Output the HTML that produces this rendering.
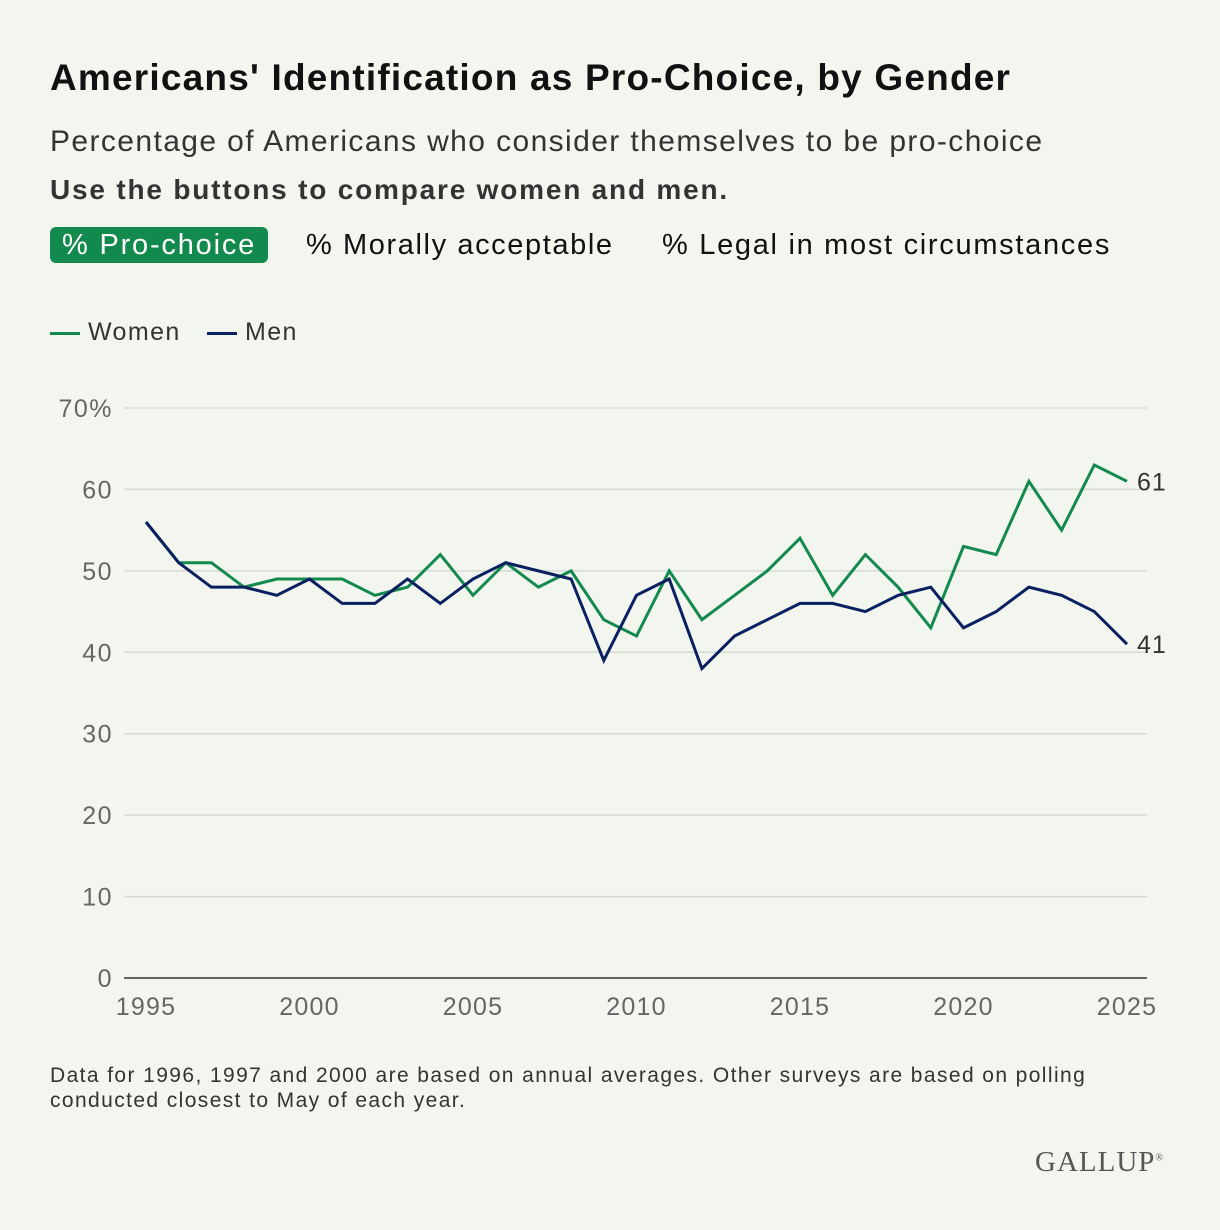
<!DOCTYPE html>
<html><head><meta charset="utf-8"><style>
body{margin:0;background:#f2f6ef;font-family:"Liberation Sans",sans-serif;}
#wrap{position:relative;width:1220px;height:1230px;background:#f2f6ef;overflow:hidden}
.t{position:absolute;white-space:nowrap}
</style></head><body>
<div id="wrap">
<div class="t" style="left:50px;top:57px;font-size:37px;font-weight:bold;color:#111;letter-spacing:1.2px">Americans' Identification as Pro-Choice, by Gender</div>
<div class="t" style="left:50px;top:125px;font-size:30px;color:#333;letter-spacing:1.4px">Percentage of Americans who consider themselves to be pro-choice</div>
<div class="t" style="left:50px;top:174px;font-size:28px;font-weight:bold;color:#333;letter-spacing:1.8px">Use the buttons to compare women and men.</div>
<div class="t" style="left:50px;top:227px;height:36px;line-height:36px;padding:0 12px;border-radius:6px;background:#138a4d;color:#fff;font-size:29px;letter-spacing:1.8px">% Pro-choice</div>
<div class="t" style="left:306px;top:227px;line-height:36px;font-size:29px;color:#111;letter-spacing:1.6px">% Morally acceptable</div>
<div class="t" style="left:662px;top:227px;line-height:36px;font-size:29px;color:#111;letter-spacing:1.7px">% Legal in most circumstances</div>
<div class="t" style="left:50px;top:318px;font-size:25px;color:#333;letter-spacing:1.4px"><span style="display:inline-block;width:30px;height:3px;background:#138a4d;vertical-align:middle;margin-right:8px"></span>Women</div>
<div class="t" style="left:207px;top:318px;font-size:25px;color:#333;letter-spacing:1.4px"><span style="display:inline-block;width:30px;height:3px;background:#0b2060;vertical-align:middle;margin-right:8px"></span>Men</div>
<svg id="chart" width="1220" height="1230" style="position:absolute;left:0;top:0"></svg>
<div class="t" style="left:50px;top:1063px;font-size:21px;color:#333;line-height:25px;letter-spacing:1.4px">Data for 1996, 1997 and 2000 are based on annual averages. Other surveys are based on polling<br>conducted closest to May of each year.</div>
<div class="t" style="left:1035px;top:1146px;font-family:'Liberation Serif',serif;font-size:29px;color:#555;letter-spacing:1px">GALLUP<sup style="font-size:10px">®</sup></div>
</div>
<script>
const years=[1995,1996,1997,1998,1999,2000,2001,2002,2003,2004,2005,2006,2007,2008,2009,2010,2011,2012,2013,2014,2015,2016,2017,2018,2019,2020,2021,2022,2023,2024,2025];
const women=[56,51,51,48,49,49,49,47,48,52,47,51,48,50,44,42,50,44,47,50,54,47,52,48,43,53,52,61,55,63,61];
const men=[56,51,48,48,47,49,46,46,49,46,49,51,50,49,39,47,49,38,42,44,46,46,45,47,48,43,45,48,47,45,41];
const yTicks=[0,10,20,30,40,50,60,70];
const yTickLabels=["0","10","20","30","40","50","60","70%"];
const xTicks=[1995,2000,2005,2010,2015,2020,2025];
const NS="http://www.w3.org/2000/svg";
const svg=document.getElementById('chart');
const x=v=>146+(v-1995)*(1127-146)/30;
const y=v=>978-v*(978-408)/70;
function mk(t,a){const e=document.createElementNS(NS,t);for(const k in a)e.setAttribute(k,a[k]);svg.appendChild(e);return e;}
yTicks.forEach((v,i)=>{
 const l=mk('line',{x1:124,x2:1147,y1:y(v),y2:y(v),stroke:v===0?'#333':'#d6dbd4','stroke-width':1.5});
 
 
 const t=mk('text',{x:113,y:y(v)+9,'text-anchor':'end','font-size':25,fill:'#666','letter-spacing':1.5,'font-family':'Liberation Sans, sans-serif'});
 t.textContent=yTickLabels[i];
 
 
});
xTicks.forEach(v=>{
 const t=mk('text',{x:x(v),y:1015,'text-anchor':'middle','font-size':25,fill:'#666','letter-spacing':1.2,'font-family':'Liberation Sans, sans-serif'});
 t.textContent=v;
 
 
});
function line(vals,col,name){
 const p=mk('polyline',{points:vals.map((v,i)=>x(years[i])+','+y(v)).join(' '),fill:'none',stroke:col,'stroke-width':3,'stroke-linejoin':'miter'});
 
 
 const last=vals.length-1;
 const t=mk('text',{x:x(years[last])+10,y:y(vals[last])+9,'font-size':25,fill:'#333','letter-spacing':1,'font-family':'Liberation Sans, sans-serif'});
 t.textContent=vals[last];
 
 
}
line(women,'#138a4d','women-line');
line(men,'#0b2060','men-line');
</script>
</body></html>
